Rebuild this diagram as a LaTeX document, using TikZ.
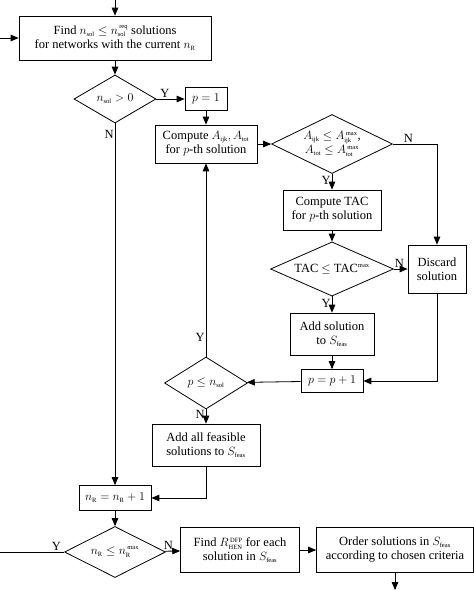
\documentclass[tikz,border=0pt]{standalone}
\usepackage{fontspec}
\setmainfont{Liberation Serif}
\usepackage{amsmath}
\usetikzlibrary{arrows,shapes.geometric}
\newcommand{\sub}[1]{\text{\fontsize{6.5}{7}\selectfont #1}}
\begin{document}
\begin{tikzpicture}
[>=triangle 45,x=1pt,y=-1pt,font=\fontsize{12.5}{14}\selectfont,
 box/.style={draw,thick,align=center,inner sep=0pt},
 dia/.style={draw,thick,diamond,aspect=1.7,inner sep=0pt,align=center},
 lab/.style={inner sep=1pt}]
	
	\useasboundingbox (0,0) rectangle (474,590);
	
	\node[box,minimum width=192,minimum height=44] (find) at (115,38)
	{Find $n_{\sub{sol}}\le n_{\sub{sol}}^{\,\sub{req}}$ solutions\\for networks with the current $n_{\sub{R}}$};
	\node[dia,minimum width=82,minimum height=48] (pos) at (115,99) {$n_{\sub{sol}}>0$};
	\node[box,minimum width=42,minimum height=23] (pone) at (206,99) {$p=1$};
	\node[box,minimum width=102,minimum height=38] (area) at (206,144)
	{Compute $A_{\sub{ijk}},A_{\sub{tot}}$\\for $p$-th solution};
	\node[dia,minimum width=121,minimum height=56] (achk) at (332,144)
	{$A_{\sub{ijk}}\le A_{\sub{ijk}}^{\,\sub{max}}$,\\$A_{\sub{tot}}\le A_{\sub{tot}}^{\,\sub{max}}$};
	\node[box,minimum width=98,minimum height=40] (tac) at (332,210)
	{Compute TAC\\for $p$-th solution};
	\node[dia,minimum width=123,minimum height=50] (tchk) at (332,269) {TAC $\le$ TAC$^{\sub{max}}$};
	\node[box,minimum width=58,minimum height=48] (disc) at (437,269) {Discard\\solution};
	\node[box,minimum width=84,minimum height=42] (add) at (332,334)
	{Add solution\\to $S_{\sub{feas}}$};
	\node[box,minimum width=62,minimum height=23] (pinc) at (332,381) {$p=p+1$};
	\node[dia,minimum width=83,minimum height=52] (pchk) at (206,383) {$p\le n_{\sub{sol}}$};
	\node[box,minimum width=108,minimum height=42] (all) at (206,445)
	{Add all feasible\\solutions to $S_{\sub{feas}}$};
	\node[box,minimum width=72,minimum height=25] (rinc) at (115,498) {$n_{\sub{R}}=n_{\sub{R}}+1$};
	\node[dia,minimum width=101,minimum height=51] (rchk) at (115,552) {$n_{\sub{R}}\le n_{\sub{R}}^{\,\sub{max}}$};
	\node[box,minimum width=119,minimum height=45] (rdfp) at (240,550)
	{Find $R_{\sub{HEN}}^{\,\sub{DFP}}$ for each\\solution in $S_{\sub{feas}}$};
	\node[box,minimum width=157,minimum height=45] (order) at (395,550)
	{Order solutions in $S_{\sub{feas}}$\\according to chosen criteria};
	
	\coordinate (top) at (115,0);
	\coordinate (left) at (0,38);
	\coordinate (back) at (0,552);
	\coordinate (bot) at (395,590);
	
	\draw[thick,->] (top) -- (find);
	\draw[thick,->] (left) -- (find);
	\draw[thick,->] (find) -- (pos);
	\draw[thick,->] (pos) -- node[lab,above,pos=0.3]{Y} (pone);
	\draw[thick,->] (pos.south) -- node[lab,left,pos=0.03]{N} (rinc);
	\draw[thick,->] (pone) -- (area);
	\draw[thick,->] (area) -- (achk);
	\draw[thick,->] (achk.east) -- node[lab,above,pos=0.35]{N} (achk.east -| disc) -- (disc);
	\draw[thick,->] (achk) -- node[lab,left,pos=0.4]{Y} (tac);
	\draw[thick,->] (tac) -- (tchk);
	\draw[thick,->] (tchk) -- node[lab,above,pos=0.4]{N} (disc);
	\draw[thick,->] (tchk) -- node[lab,left,pos=0.4]{Y} (add);
	\draw[thick,->] (add) -- (pinc);
	\draw[thick,->] (disc) |- (pinc);
	\draw[thick,->] (pinc) -- (pchk);
	\draw[thick,->] (pchk) -- node[lab,left,pos=0.1]{Y} (area);
	\draw[thick,->] (pchk) -- node[lab,left,pos=0.35]{N} (all);
	\draw[thick,->] (all) |- (rinc);
	\draw[thick,->] (rinc) -- (rchk);
	\draw[thick] (rchk) -- node[lab,above,pos=0.12]{Y} (back);
	\draw[thick,->] (rchk) -- node[lab,above,pos=0.25]{N} (rdfp);
	\draw[thick,->] (rdfp) -- (order);
	\draw[thick,->] (order) -- (bot);
\end{tikzpicture}
\end{document}
